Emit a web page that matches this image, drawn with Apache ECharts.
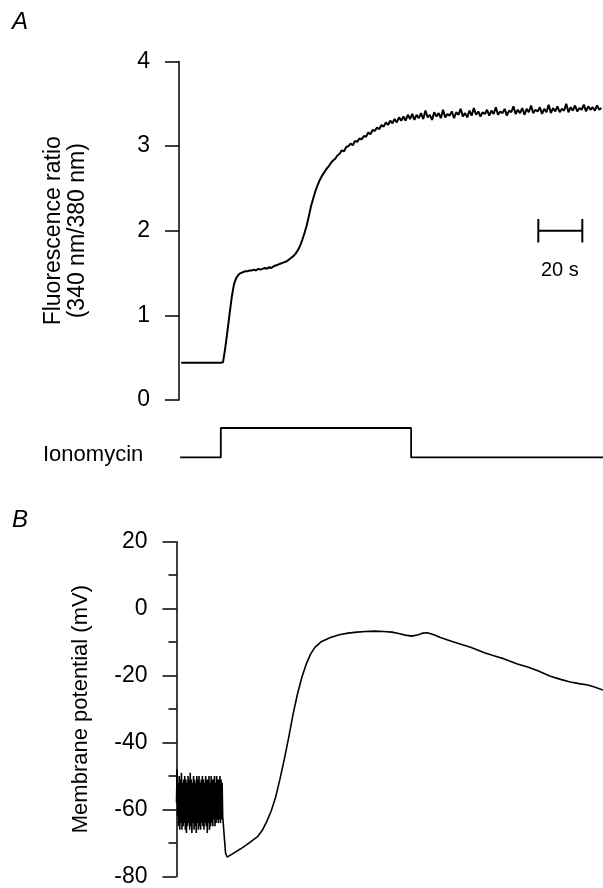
<!DOCTYPE html>
<html>
<head>
<meta charset="utf-8">
<script src="https://cdn.jsdelivr.net/npm/echarts@6/dist/echarts.min.js"></script>
<style>
html,body{margin:0;padding:0;background:#fff;}
#chart{width:603px;height:888px;}
</style>
</head>
<body>
<div id="chart"></div>
<script>
// A: fluorescence ratio (340/380), one sample per second from t = 1 s
const ratioStart = 1;
const ratioStep = 1;
const ratioValues = [
    0.44,0.44,0.44,0.44,0.44,0.44,0.44,0.44,0.44,0.44,0.44,0.44,0.44,0.44,0.44,0.44,0.44,0.44,0.44,0.445,
    0.61,0.81,1.02,1.22,1.37,1.44,1.48,1.50,1.51,1.52,
    1.52,1.53,1.53,1.54,1.53,1.55,1.54,1.55,1.56,1.55,
    1.57,1.56,1.58,1.59,1.60,1.61,1.62,1.63,1.64,1.66,
    1.68,1.70,1.73,1.77,1.82,1.89,1.97,2.06,2.17,2.29,
    2.38,2.47,2.54,2.60,2.65,2.69,2.73,2.76,2.80,2.83,
    2.85,2.89,2.91,2.95,2.94,2.99,3.00,3.03,3.01,3.06,
    3.05,3.09,3.08,3.12,3.11,3.16,3.14,3.19,3.18,3.22,
    3.20,3.25,3.23,3.28,3.25,3.30,3.27,3.32,3.28,3.34,
    3.30,3.35,3.30,3.37,3.32,3.38,3.31,3.37,3.33,3.39,
    3.32,3.42,3.34,3.37,3.31,3.40,3.35,3.39,3.33,3.43,
    3.34,3.38,3.36,3.41,3.33,3.40,3.37,3.44,3.35,3.39,
    3.34,3.42,3.36,3.45,3.37,3.41,3.35,3.40,3.38,3.43,
    3.36,3.42,3.38,3.46,3.37,3.41,3.39,3.44,3.36,3.42,
    3.40,3.47,3.38,3.43,3.39,3.45,3.37,3.44,3.40,3.48,
    3.39,3.43,3.41,3.46,3.38,3.44,3.40,3.49,3.39,3.45,
    3.41,3.47,3.40,3.44,3.42,3.50,3.40,3.46,3.42,3.48,
    3.41,3.45,3.43,3.49,3.41,3.47,3.43,3.46,3.42,3.48,
    3.43,3.45
];
const ratioTicks = [0, 1, 2, 3, 4];

// ionomycin application (0 = off, 1 = on)
const ionoTimes = [0.5, 19, 19, 105.5, 105.5, 192.7];
const ionoLevels = [0, 0, 1, 1, 0, 0];

// time scale bar
const scaleBarStart = 163.3;
const scaleBarLength = 20;
const scaleBarLevel = 2.0;
const scaleBarCap = 0.14;

// B: membrane potential, oscillating part sampled every 0.25 s
const vmOscStep = 0.25;
const vmOscValues = [
    -58,-48,-62,-52,-65,-50,-66,-51,-64,-49,
    -66,-52,-65,-51,-64,-50,-66,-51,-67,-52,
    -65,-50,-64,-51,-66,-49,-65,-51,-67,-52,
    -64,-50,-66,-51,-65,-52,-67,-50,-64,-51,
    -66,-50,-65,-52,-66,-51,-64,-50,-65,-51,
    -66,-52,-64,-50,-65,-51,-67,-51,-64,-50,
    -66,-52,-65,-50,-64,-51,-65,-51,-63,-50,
    -65,-52,-64,-50,-63,-51,-64,-51,-63,-50,
    -64,-51,-63,-52,-62
];
const vmTimes = [21.3,22.3,23,26,29,32,35,37,39,41,43,45,47,49,51,53,55,57,59,61,63,66,70,74,78,82,86,90,94,98,
    101,104,107,110,112,114,117,120,125,130,134,140,145,149,155,160,164,170,175,179,183,187,190,193.9];
const vmValues = [-62,-73,-74.2,-73,-71.8,-70.5,-69,-68,-66.2,-63.6,-60.5,-56.5,-51,-45,-38.5,-31.5,-25.5,-20.5,-16.5,-13.5,
    -11.5,-9.8,-8.6,-7.8,-7.3,-7.0,-6.8,-6.7,-6.8,-7.0,-7.4,-7.9,-8.2,-7.8,-7.3,-7.2,-7.8,-8.6,-9.7,-10.8,
    -11.6,-13.2,-14.2,-15.0,-16.5,-17.5,-18.5,-20.2,-21.2,-21.9,-22.4,-22.8,-23.4,-24.3];
const vmTicks = [-80, -60, -40, -20, 0, 20];

const FONT = '"Liberation Sans", Arial, Helvetica, sans-serif';

let ratioData = ratioValues.map(function(v, i){ return [ratioStart + i * ratioStep, v]; });
let ionoData = ionoTimes.map(function(t, i){ return [t, ionoLevels[i]]; });
let scaleBarEnd = scaleBarStart + scaleBarLength;
let scaleBarData = [
    [scaleBarStart, scaleBarLevel + scaleBarCap], [scaleBarStart, scaleBarLevel - scaleBarCap],
    [scaleBarStart, scaleBarLevel], [scaleBarEnd, scaleBarLevel],
    [scaleBarEnd, scaleBarLevel + scaleBarCap], [scaleBarEnd, scaleBarLevel - scaleBarCap]
];
let vmData = vmOscValues.map(function(v, i){ return [i * vmOscStep, v]; });
vmTimes.forEach(function(t, i){ vmData.push([t, vmValues[i]]); });

let chart = echarts.init(document.getElementById('chart'));

function yAxisStyle(ticks){
    return {
        type: 'value',
        min: ticks[0],
        max: ticks[ticks.length - 1],
        interval: ticks[1] - ticks[0],
        axisLine: {show: true, lineStyle: {color: '#000', width: 1.5}},
        axisTick: {show: true, length: 14, lineStyle: {color: '#000', width: 1.5}},
        axisLabel: {color: '#000', fontSize: 23, fontFamily: FONT, margin: 29},
        splitLine: {show: false},
        nameLocation: 'middle',
        nameRotate: 90,
        nameTextStyle: {color: '#000', fontSize: 23, fontFamily: FONT, lineHeight: 24}
    };
}

let yA = yAxisStyle(ratioTicks);
yA.gridIndex = 0;
yA.name = 'Fluorescence ratio\n(340 nm/380 nm)';
yA.nameGap = 89;

let yB = yAxisStyle(vmTicks);
yB.gridIndex = 2;
yB.name = 'Membrane potential (mV)';
yB.nameGap = 84;
yB.nameTextStyle.fontSize = 22;
yB.minorTick = {show: true, splitNumber: 2, length: 8, lineStyle: {color: '#000', width: 1.5}};

let option = {
    animation: false,
    backgroundColor: '#fff',
    title: [
        {text: 'A', left: 7, top: 5, textStyle: {fontStyle: 'italic', fontWeight: 'normal', fontSize: 24, fontFamily: FONT, color: '#000'}},
        {text: 'B', left: 7, top: 503, textStyle: {fontStyle: 'italic', fontWeight: 'normal', fontSize: 24, fontFamily: FONT, color: '#000'}}
    ],
    grid: [
        {left: 179, right: 0, top: 61.5, bottom: 488},
        {left: 179, right: 0, top: 428, bottom: 430.5},
        {left: 176.5, right: 0, top: 541.7, bottom: 8}
    ],
    xAxis: [
        {type: 'value', gridIndex: 0, min: 0, max: 192.7, show: false},
        {type: 'value', gridIndex: 1, min: 0, max: 192.7, show: false},
        {type: 'value', gridIndex: 2, min: 0, max: 193.9, show: false}
    ],
    yAxis: [
        yA,
        {type: 'value', gridIndex: 1, min: 0, max: 1, show: false},
        yB
    ],
    graphic: [
        {type: 'text', left: 43, top: 444, style: {text: 'Ionomycin', fontSize: 22, fontFamily: FONT, fill: '#000'}},
        {type: 'text', left: 541, top: 260, style: {text: '20 s', fontSize: 20, fontFamily: FONT, fill: '#000'}}
    ],
    series: [
        {
            type: 'line', xAxisIndex: 0, yAxisIndex: 0, data: ratioData,
            showSymbol: false, silent: true,
            lineStyle: {color: '#000', width: 2}
        },
        {
            type: 'line', xAxisIndex: 0, yAxisIndex: 0, data: scaleBarData,
            showSymbol: false, silent: true,
            lineStyle: {color: '#000', width: 2}
        },
        {
            type: 'line', xAxisIndex: 1, yAxisIndex: 1, data: ionoData,
            showSymbol: false, silent: true,
            lineStyle: {color: '#000', width: 1.8}
        },
        {
            type: 'line', xAxisIndex: 2, yAxisIndex: 2, data: vmData,
            showSymbol: false, silent: true,
            lineStyle: {color: '#000', width: 1.6}
        }
    ]
};

chart.setOption(option);
</script>
</body>
</html>
